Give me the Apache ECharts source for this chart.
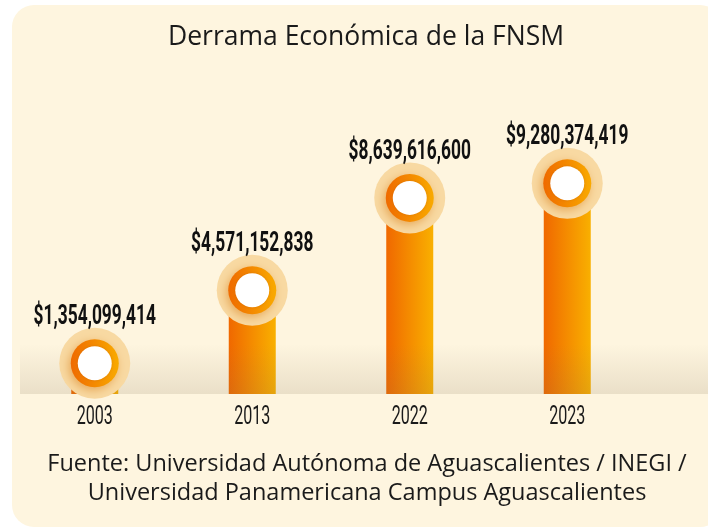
<!DOCTYPE html>
<html>
<head>
<meta charset="utf-8">
<script src="https://cdn.jsdelivr.net/npm/echarts@6/dist/echarts.min.js"></script>
<style>
  html, body { margin: 0; padding: 0; background: #fff; }
  #chart { width: 708px; height: 528px; }
</style>
</head>
<body>
<div id="chart"></div>
<script>
// datos de la gráfica
const years = ['2003', '2013', '2022', '2023'];
const derrama = [1354099414, 4571152838, 8639616600, 9280374419];
const titleText = 'Derrama Económica de la FNSM';
const sourceText = 'Fuente: Universidad Autónoma de Aguascalientes / INEGI /\nUniversidad Panamericana Campus Aguascalientes';

const chart = echarts.init(document.getElementById('chart'));

const barColor = new echarts.graphic.LinearGradient(0, 0, 1, 0, [
  { offset: 0, color: '#f06800' },
  { offset: 1, color: '#f9b000' }
]);
const ringColor = new echarts.graphic.LinearGradient(0, 0, 1, 0, [
  { offset: 0, color: '#ef6a00' },
  { offset: 1, color: '#f9aa00' }
]);

// etiquetas condensadas (valor arriba del círculo y año bajo la base)
function renderLabels(params, api) {
  const i = api.value(0);
  const v = api.value(1);
  const top = api.coord([i, v]);
  const base = api.coord([i, 0]);
  return {
    type: 'group',
    children: [
      {
        type: 'text', x: top[0], y: top[1] - 46, scaleX: 0.62,
        style: {
          text: '$' + v.toLocaleString('en-US'),
          textAlign: 'center', textVerticalAlign: 'middle',
          font: 'bold 28px Roboto, sans-serif', fill: '#111'
        }
      },
      {
        type: 'text', x: base[0], y: base[1] + 23, scaleX: 0.62,
        style: {
          text: years[i],
          textAlign: 'center', textVerticalAlign: 'middle',
          font: '26px Roboto, sans-serif', fill: '#1a1a1a'
        }
      }
    ]
  };
}

const option = {
  animation: false,
  backgroundColor: '#ffffff',
  graphic: [
    // tarjeta de fondo
    {
      type: 'rect', z: -10,
      shape: { x: 12, y: 5, width: 710, height: 522, r: 22 },
      style: { fill: '#fef5df' }
    },
    {
      type: 'text', z: 10,
      style: {
        x: 366, y: 37, text: titleText,
        textAlign: 'center', textVerticalAlign: 'middle',
        font: '26.5px "Open Sans", sans-serif', fill: '#1a1a1a'
      }
    },
    {
      type: 'text', z: 10,
      style: {
        x: 367, y: 479, text: sourceText,
        textAlign: 'center', textVerticalAlign: 'middle', lineHeight: 29,
        font: '23.5px "Open Sans", sans-serif', fill: '#1a1a1a'
      }
    },
    // sombra sobre la base (entre barras y círculos)
    {
      type: 'rect', z: 3,
      shape: { x: 20, y: 344, width: 700, height: 50 },
      style: {
        fill: new echarts.graphic.LinearGradient(0, 0, 0, 1, [
          { offset: 0, color: 'rgba(130,110,80,0)' },
          { offset: 1, color: 'rgba(130,110,80,0.16)' }
        ])
      }
    }
  ],
  grid: { left: 16, right: 62, top: 167, bottom: 134 },
  xAxis: {
    type: 'category',
    data: years,
    axisLine: { show: false },
    axisTick: { show: false },
    axisLabel: { show: false }
  },
  yAxis: {
    type: 'value', min: 0, max: 10000000000,
    show: false, splitLine: { show: false }
  },
  series: [
    {
      type: 'bar', data: derrama, barWidth: 47, z: 2,
      itemStyle: { color: barColor }
    },
    {
      type: 'scatter', data: derrama, symbolSize: 71, z: 4, silent: true,
      itemStyle: { color: '#f8d9a2', opacity: 1 }
    },
    {
      type: 'scatter', data: derrama, symbolSize: 48, z: 5, silent: true,
      itemStyle: {
        color: ringColor, opacity: 1,
        shadowBlur: 10, shadowColor: 'rgba(210,110,0,0.45)', shadowOffsetX: -2, shadowOffsetY: 3
      }
    },
    {
      type: 'scatter', data: derrama, symbolSize: 34, z: 6, silent: true,
      itemStyle: {
        color: '#ffffff', opacity: 1,
        shadowBlur: 3, shadowColor: 'rgba(160,70,0,0.3)'
      }
    },
    {
      type: 'custom', z: 7, silent: true, clip: false,
      data: derrama.map((v, i) => [i, v]),
      encode: { x: 0, y: 1 },
      renderItem: renderLabels
    }
  ]
};

chart.setOption(option);
</script>
</body>
</html>
